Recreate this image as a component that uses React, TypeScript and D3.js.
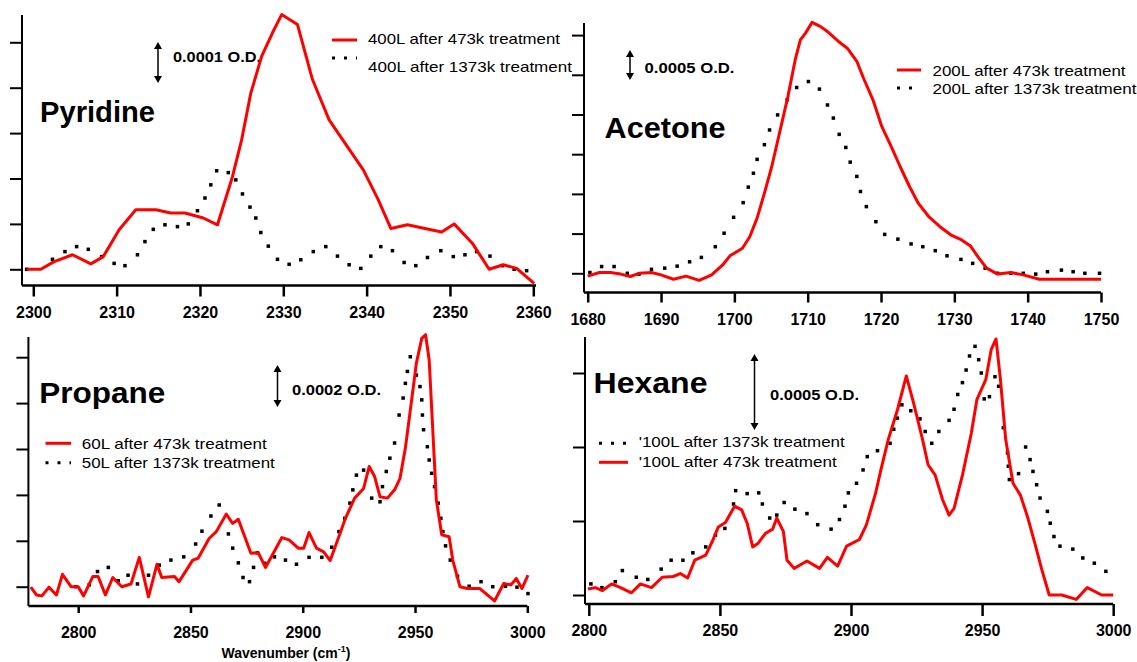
import React, { useEffect, useRef } from "react";
import * as d3 from "d3";

type Pt = [number, number];

// x = wavenumber (cm-1), y = absorbance in y-tick units
const pyridine473: Pt[] = [
  [2299.2, 0], [2300.9, 0], [2302.5, 0.17], [2304.7, 0.32], [2306.9, 0.12], [2308.4, 0.28],
  [2310.3, 0.87], [2312.3, 1.31], [2314.7, 1.31], [2316.5, 1.24], [2318.2, 1.24], [2320.4, 1.13],
  [2322.1, 0.98], [2323.9, 2.04], [2325.0, 2.85], [2326.1, 3.88], [2327.4, 4.69], [2328.7, 5.21],
  [2329.8, 5.61], [2331.7, 5.39], [2333.5, 4.18], [2335.5, 3.29], [2337.4, 2.78], [2339.6, 2.19],
  [2341.4, 1.53], [2342.9, 0.9], [2344.9, 0.98], [2347.0, 0.9], [2349.0, 0.82], [2350.5, 1.0],
  [2352.7, 0.57], [2354.7, 0], [2356.4, 0.1], [2358.0, 0.02], [2360.1, -0.31]
];
const pyridine1373: Pt[] = [
  [2299.2, 0], [2302.3, 0.22], [2303.8, 0.39], [2305.2, 0.5], [2306.6, 0.44], [2308.2, 0.28],
  [2309.7, 0.13], [2311.0, 0.08], [2312.5, 0.32], [2313.4, 0.61], [2314.4, 0.88], [2315.8, 0.98],
  [2317.3, 0.94], [2318.6, 1.0], [2319.7, 1.29], [2320.6, 1.57], [2321.3, 1.86], [2322.0, 2.17],
  [2323.4, 2.13], [2324.3, 1.97], [2325.1, 1.66], [2326.0, 1.37], [2326.7, 1.13], [2327.3, 0.81],
  [2328.2, 0.51], [2329.3, 0.22], [2330.7, 0.11], [2332.1, 0.21], [2333.6, 0.39], [2335.1, 0.5],
  [2336.5, 0.29], [2337.9, 0.1], [2339.3, 0.02], [2340.5, 0.29], [2341.7, 0.5], [2343.1, 0.41],
  [2344.5, 0.15], [2345.9, 0.08], [2347.3, 0.26], [2348.9, 0.41], [2350.4, 0.28], [2351.8, 0.32],
  [2353.2, 0.39], [2354.8, 0.29], [2356.3, 0.08], [2357.7, 0], [2359.2, -0.03]
];
const pyridineXTicks = [2300, 2310, 2320, 2330, 2340, 2350, 2360];
const pyridineYTicks = [0, 1, 2, 3, 4, 5];
const pyridineLegend = ["400L after 473k treatment", "400L after 1373k treatment"];

const acetone473: Pt[] = [
  [1680, -0.07], [1681.6, 0.02], [1683.1, 0.02], [1684.5, -0.02], [1685.8, -0.08], [1687.0, 0],
  [1688.7, 0.02], [1690.0, -0.04], [1691.7, -0.15], [1693.4, -0.07], [1695.2, -0.18], [1696.9, -0.04],
  [1698.4, 0.21], [1699.4, 0.44], [1701.1, 0.63], [1702.1, 0.92], [1703.1, 1.39], [1704.1, 2.02],
  [1705.1, 2.69], [1706.2, 3.57], [1707.3, 4.45], [1708.3, 5.38], [1709.0, 5.88], [1709.7, 6.05],
  [1710.6, 6.32], [1711.7, 6.22], [1712.7, 6.09], [1714.2, 5.84], [1715.4, 5.67], [1716.7, 5.34],
  [1717.6, 4.92], [1718.9, 4.37], [1720.1, 3.7], [1721.4, 3.19], [1722.6, 2.69], [1723.9, 2.18],
  [1725.1, 1.76], [1726.5, 1.43], [1728.0, 1.18], [1729.5, 0.97], [1731.0, 0.84], [1732.2, 0.69],
  [1733.2, 0.42], [1734.4, 0.13], [1735.9, -0.02], [1737.7, 0.02], [1739.4, -0.04], [1741.6, -0.15],
  [1750, -0.15]
];
const acetone1373: Pt[] = [
  [1680.3, 0.02], [1681.9, 0.17], [1683.6, 0.17], [1685.4, 0], [1687.0, -0.02], [1688.7, 0.1],
  [1690.5, 0.13], [1692.2, 0.18], [1693.9, 0.29], [1695.5, 0.4], [1697.4, 0.67], [1698.6, 1.01],
  [1699.9, 1.41], [1701.2, 1.78], [1701.9, 2.17], [1702.6, 2.52], [1703.1, 2.87], [1704.1, 3.24],
  [1704.8, 3.61], [1705.9, 3.99], [1707.2, 4.37], [1708.5, 4.68], [1710.1, 4.83], [1711.6, 4.64],
  [1712.7, 4.24], [1713.5, 3.91], [1714.3, 3.5], [1715.2, 3.17], [1715.8, 2.8], [1716.7, 2.44],
  [1717.2, 2.06], [1718.0, 1.68], [1719.3, 1.3], [1720.5, 0.98], [1722.3, 0.86], [1724.1, 0.74],
  [1725.7, 0.67], [1727.4, 0.57], [1729.0, 0.44], [1730.9, 0.35], [1732.5, 0.25], [1734.2, 0.13],
  [1735.9, 0], [1737.7, 0], [1739.4, 0], [1741.1, -0.02], [1742.7, 0.04], [1744.6, 0.08],
  [1746.2, 0.04], [1747.8, 0], [1749.8, 0]
];
const acetoneXTicks = [1680, 1690, 1700, 1710, 1720, 1730, 1740, 1750];
const acetoneYTicks = [0, 1, 2, 3, 4, 5, 6];
const acetoneLegend = ["200L after 473k treatment", "200L after 1373k treatment"];

const propane473: Pt[] = [
  [2778.9, -0.01], [2781.4, -0.18], [2783.8, -0.2], [2787.0, -0.01], [2790.3, -0.18], [2793.0, 0.27],
  [2796.8, 0], [2800, 0], [2802.4, -0.2], [2806.5, 0.22], [2808.9, 0.22], [2812.1, -0.18],
  [2815.4, 0.2], [2819.4, 0], [2823.5, 0.06], [2827.2, 0.64], [2831.3, -0.22], [2835.1, 0.49],
  [2837.2, 0.2], [2842.9, 0.22], [2844.9, 0.11], [2851.0, 0.58], [2853.4, 0.62], [2858.3, 1.05],
  [2861.5, 1.2], [2865.9, 1.58], [2868.8, 1.38], [2871.3, 1.47], [2876.9, 0.73], [2880.2, 0.74],
  [2883.4, 0.42], [2890.7, 1.07], [2893.9, 1.02], [2898.0, 0.84], [2900.4, 0.84], [2902.8, 1.18],
  [2906.1, 0.84], [2909.3, 0.76], [2912.2, 0.57], [2916.6, 1.16], [2919.0, 1.49], [2923.1, 1.93],
  [2927.1, 2.14], [2929.6, 2.62], [2932.0, 2.4], [2934.4, 1.96], [2937.7, 1.93], [2940.9, 2.11],
  [2943.3, 2.36], [2945.7, 3.02], [2948.2, 3.96], [2950.6, 4.87], [2953.0, 5.41], [2954.7, 5.49],
  [2956.3, 4.94], [2957.9, 3.42], [2959.5, 1.89], [2961.9, 1.13], [2965.2, 1.09], [2966.8, 0.58],
  [2970.0, 0], [2973.3, -0.04], [2978.9, -0.04], [2982.2, -0.18], [2985.4, -0.31], [2989.5, 0.07],
  [2992.7, 0.04], [2995.1, 0.18], [2997.6, -0.04], [3000.3, 0.25]
];
const propane1373: Pt[] = [
  [2798.9, 0], [2804.9, 0.04], [2808.6, 0.33], [2813.4, 0.42], [2817.8, 0.13], [2822.2, 0.25],
  [2826.4, 0.06], [2831.3, 0.25], [2836.1, 0.47], [2841.3, 0.58], [2847.0, 0.65], [2852.3, 0.93],
  [2855.1, 1.21], [2859.1, 1.54], [2862.8, 1.78], [2866.9, 1.15], [2868.8, 0.84], [2871.3, 0.52],
  [2873.4, 0.2], [2876.3, 0.11], [2878.1, 0.42], [2879.8, 0.74], [2883.1, 0.51], [2887.4, 0.65],
  [2892.3, 0.58], [2897.2, 0.49], [2902.8, 0.64], [2908.5, 0.64], [2912.9, 0.86], [2916.1, 1.2],
  [2918.7, 1.49], [2921.0, 1.82], [2922.3, 2.11], [2923.9, 2.43], [2927.1, 2.54], [2930.7, 1.93],
  [2934.4, 1.85], [2935.5, 2.18], [2937.2, 2.51], [2938.8, 2.8], [2940.9, 3.13], [2942.9, 3.74],
  [2944.7, 4.11], [2945.7, 4.43], [2946.6, 4.69], [2947.9, 5.01], [2950.6, 4.61], [2952.2, 4.36],
  [2953.0, 4.07], [2953.3, 3.74], [2953.8, 3.42], [2955.5, 3.05], [2956.3, 2.76], [2957.4, 2.47],
  [2958.7, 2.18], [2960.3, 1.82], [2961.5, 1.49], [2962.4, 1.2], [2963.6, 0.89], [2965.7, 0.58],
  [2968.9, 0.23], [2974.1, 0.01], [2979.4, 0.11], [2984.6, 0], [2990.3, 0.01], [2995.4, -0.01],
  [3000.3, -0.15]
];
const propaneXTicks = [2800, 2850, 2900, 2950, 3000];
const propaneYTicks = [0, 1, 2, 3, 4, 5];
const propaneLegend = ["60L after 473k treatment", "50L after 1373k treatment"];

const hexane473: Pt[] = [
  [2799.7, 0.08], [2802.5, 0.1], [2805.2, 0.06], [2808.7, 0.15], [2812.1, 0.1], [2816.3, 0.03],
  [2819.7, 0.15], [2823.9, 0.1], [2828.0, 0.24], [2832.1, 0.25], [2834.9, 0.29], [2837.7, 0.23],
  [2840.4, 0.47], [2844.6, 0.54], [2847.3, 0.74], [2849.4, 0.92], [2852.1, 0.98], [2855.6, 1.2],
  [2858.3, 1.15], [2860.4, 0.97], [2862.5, 0.65], [2864.6, 0.7], [2867.3, 0.83], [2870.1, 0.89],
  [2871.7, 1.04], [2874.2, 0.86], [2875.6, 0.47], [2878.3, 0.36], [2883.2, 0.46], [2888.0, 0.36],
  [2891.0, 0.51], [2894.9, 0.39], [2898.3, 0.66], [2903.2, 0.75], [2905.9, 0.95], [2909.4, 1.38],
  [2911.4, 1.69], [2914.2, 2.1], [2917.7, 2.5], [2921.1, 2.96], [2923.9, 2.59], [2927.3, 2.1],
  [2929.4, 1.76], [2932.1, 1.62], [2934.9, 1.29], [2937.4, 1.08], [2939.3, 1.17], [2942.5, 1.62],
  [2945.9, 2.19], [2948.0, 2.64], [2951.4, 2.91], [2953.5, 3.32], [2955.3, 3.46], [2957.0, 2.91],
  [2959.0, 2.1], [2961.8, 1.51], [2964.6, 1.35], [2967.3, 1.06], [2970.1, 0.7], [2972.8, 0.34],
  [2975.6, 0], [2980.4, 0], [2985.9, -0.06], [2990.1, 0.1], [2995.6, 0], [3000, 0]
];
const hexane1373: Pt[] = [
  [2800.8, 0.15], [2805.0, 0.1], [2810.1, 0.18], [2812.8, 0.33], [2818.1, 0.24], [2822.5, 0.21],
  [2827.6, 0.35], [2831.4, 0.47], [2835.9, 0.47], [2839.7, 0.57], [2844.6, 0.65], [2848.3, 0.81],
  [2851.9, 0.9], [2855.2, 1.23], [2856.0, 1.41], [2860.4, 1.37], [2864.8, 1.38], [2866.2, 1.23],
  [2869.0, 1.04], [2871.7, 1.08], [2874.5, 1.25], [2878.6, 1.16], [2883.2, 1.1], [2887.3, 0.95],
  [2892.4, 0.89], [2895.6, 1.02], [2897.7, 1.2], [2899.0, 1.38], [2902.1, 1.51], [2904.6, 1.69],
  [2906.2, 1.87], [2910.1, 1.95], [2914.9, 2.05], [2916.3, 2.24], [2917.7, 2.39], [2919.4, 2.57],
  [2922.8, 2.49], [2926.3, 2.38], [2928.3, 2.21], [2930.8, 2.05], [2933.5, 2.21], [2937.4, 2.36],
  [2939.3, 2.51], [2940.7, 2.71], [2942.5, 2.87], [2943.9, 3.04], [2945.2, 3.23], [2947.3, 3.36],
  [2948.7, 3.18], [2949.7, 3.0], [2950.8, 2.65], [2952.8, 2.68], [2954.9, 2.95], [2956.3, 2.82],
  [2958.1, 2.26], [2959.7, 1.92], [2960.0, 1.74], [2960.4, 1.56], [2963.9, 1.64], [2966.6, 2.0],
  [2968.3, 1.83], [2969.4, 1.67], [2970.8, 1.49], [2972.1, 1.31], [2974.9, 1.13], [2976.0, 0.97],
  [2977.4, 0.79], [2979.7, 0.66], [2984.6, 0.62], [2988.4, 0.5], [2992.8, 0.43], [2997.2, 0.32]
];
const hexaneXTicks = [2800, 2850, 2900, 2950, 3000];
const hexaneYTicks = [0, 1, 2, 3];
const hexaneLegend = ["'100L after 1373k treatment", "'100L after 473k treatment"];

const FONT = "'Liberation Sans', Arial, Helvetica, sans-serif";
const RED = "#ff0000";

// layout of each of the four panels (pixel positions)
const panels = [
  {
    title: "Pyridine", red: pyridine473, dots: pyridine1373, xTicks: pyridineXTicks, yTicks: pyridineYTicks,
    xd: [2300, 2360], xr: [33.3, 533.3], y0: 269.3, unit: 45.4,
    left: 22, right: 536, top: 15, bottom: 285.5, xTick: 11, labelY: 318,
    tt: [40, 121.7, 115],
    bar: { x: 158, y0: 42, y1: 83, tx: 173, ty: 62, tw: 88, text: "0.0001 O.D." },
    leg: { x0: 332, x1: 357, tx: 368, rows: [
      { kind: "red", y: 40, ty: 44.3, tw: 192, text: pyridineLegend[0] },
      { kind: "dots", y: 58, ty: 72, tw: 204, text: pyridineLegend[1] }] }
  },
  {
    title: "Acetone", red: acetone473, dots: acetone1373, xTicks: acetoneXTicks, yTicks: acetoneYTicks,
    xd: [1680, 1750], xr: [587.7, 1101], y0: 273.3, unit: 39.7,
    left: 584, right: 1101, top: 23, bottom: 292.5, xTick: 10, labelY: 325,
    tt: [604.5, 138, 121],
    bar: { x: 630, y0: 50, y1: 80, tx: 644.5, ty: 73, tw: 90, text: "0.0005 O.D." },
    leg: { x0: 897, x1: 921, tx: 932.5, rows: [
      { kind: "red", y: 70, ty: 75.5, tw: 193, text: acetoneLegend[0] },
      { kind: "dots", y: 88, ty: 94, tw: 204, text: acetoneLegend[1] }] }
  },
  {
    title: "Propane", red: propane473, dots: propane1373, xTicks: propaneXTicks, yTicks: propaneYTicks,
    xd: [2800, 3000], xr: [78.2, 527.3], y0: 586.7, unit: 45.9,
    left: 28.4, right: 527.3, top: 337, bottom: 606, xTick: 7, labelY: 638,
    tt: [39.3, 402.7, 126],
    bar: { x: 277.5, y0: 365, y1: 407, tx: 292, ty: 395, tw: 89, text: "0.0002 O.D." },
    leg: { x0: 45.5, x1: 71, tx: 81.8, rows: [
      { kind: "red", y: 443.3, ty: 449.3, tw: 185, text: propaneLegend[0] },
      { kind: "dots", y: 462.7, ty: 468.3, tw: 193, text: propaneLegend[1] }] }
  },
  {
    title: "Hexane", red: hexane473, dots: hexane1373, xTicks: hexaneXTicks, yTicks: hexaneYTicks,
    xd: [2800, 3000], xr: [588.8, 1113.2], y0: 595, unit: 74,
    left: 585, right: 1113.2, top: 337, bottom: 604, xTick: 12, labelY: 636,
    tt: [593.5, 392.7, 114],
    bar: { x: 754.5, y0: 354, y1: 430, tx: 770, ty: 400, tw: 89, text: "0.0005 O.D." },
    leg: { x0: 599, x1: 628, tx: 638.7, rows: [
      { kind: "dots", y: 443.3, ty: 447.3, tw: 206, text: hexaneLegend[0] },
      { kind: "red", y: 462.3, ty: 466.7, tw: 198, text: hexaneLegend[1] }] }
  }
];

function App() {
  const ref = useRef<SVGSVGElement>(null);

  useEffect(() => {
    const svg = d3.select(ref.current);
    svg.selectAll("*").remove();

    panels.forEach(p => {
      const x = d3.scaleLinear().domain(p.xd).range(p.xr);
      const y = d3.scaleLinear().domain([0, 1]).range([p.y0, p.y0 - p.unit]);
      const g = svg.append("g");

      // axis lines
      g.append("line").attr("x1", p.left).attr("x2", p.left).attr("y1", p.top).attr("y2", p.bottom)
        .attr("stroke", "#000").attr("stroke-width", 2);
      g.append("line").attr("x1", p.left).attr("x2", p.right).attr("y1", p.bottom).attr("y2", p.bottom)
        .attr("stroke", "#000").attr("stroke-width", 2.5);

      const xa = g.append("g")
        .attr("transform", `translate(0,${p.bottom})`)
        .call(d3.axisBottom(x).tickValues(p.xTicks).tickSize(p.xTick).tickSizeOuter(0).tickFormat(d3.format("d")));
      xa.select(".domain").remove();
      xa.selectAll("line").attr("stroke", "#000").attr("stroke-width", 2.5);
      xa.selectAll("text")
        .attr("y", p.labelY - p.bottom).attr("dy", null)
        .attr("fill", "#000").attr("font-family", FONT).attr("font-size", 16).attr("font-weight", "bold");

      const ya = g.append("g")
        .attr("transform", `translate(${p.left},0)`)
        .call(d3.axisLeft(y).tickValues(p.yTicks).tickSize(12).tickSizeOuter(0).tickFormat(() => ""));
      ya.select(".domain").remove();
      ya.selectAll("line").attr("stroke", "#000").attr("stroke-width", 2);

      // panel title
      g.append("text").attr("x", p.tt[0]).attr("y", p.tt[1]).text(p.title)
        .attr("font-family", FONT).attr("font-size", 30).attr("font-weight", "bold")
        .attr("textLength", p.tt[2]).attr("lengthAdjust", "spacingAndGlyphs");

      // scale bar with double arrow
      const b = p.bar;
      g.append("line").attr("x1", b.x).attr("x2", b.x).attr("y1", b.y0 + 3).attr("y2", b.y1 - 3)
        .attr("stroke", "#000").attr("stroke-width", 1.5);
      g.append("path").attr("d", `M${b.x},${b.y0} l-4,7 l8,0 Z M${b.x},${b.y1} l-4,-7 l8,0 Z`).attr("fill", "#000");
      g.append("text").attr("x", b.tx).attr("y", b.ty).text(b.text)
        .attr("font-family", FONT).attr("font-size", 15).attr("font-weight", "bold")
        .attr("textLength", b.tw).attr("lengthAdjust", "spacingAndGlyphs");

      // legend
      p.leg.rows.forEach(r => {
        const l = g.append("line").attr("x1", p.leg.x0).attr("x2", p.leg.x1).attr("y1", r.y).attr("y2", r.y)
          .attr("stroke", r.kind === "red" ? RED : "#000").attr("stroke-width", 3);
        if (r.kind === "dots") l.attr("stroke-dasharray", "3,9");
        g.append("text").attr("x", p.leg.tx).attr("y", r.ty).text(r.text)
          .attr("font-family", FONT).attr("font-size", 15)
          .attr("textLength", r.tw).attr("lengthAdjust", "spacingAndGlyphs");
      });

      // 1373k series: dotted
      g.selectAll("rect.dot").data(p.dots).enter().append("rect")
        .attr("class", "dot")
        .attr("x", d => x(d[0]) - 1.75).attr("y", d => y(d[1]) - 1.75)
        .attr("width", 3.5).attr("height", 3.5).attr("fill", "#000");

      // 473k series: red line
      const line = d3.line<Pt>().x(d => x(d[0])).y(d => y(d[1]));
      g.append("path").datum(p.red).attr("d", line)
        .attr("fill", "none").attr("stroke", RED).attr("stroke-width", 3).attr("stroke-linejoin", "round");
    });

    // shared x-axis title
    const t = svg.append("text").attr("x", 286).attr("y", 658).attr("text-anchor", "middle")
      .attr("font-family", FONT).attr("font-size", 14).attr("font-weight", "bold");
    t.append("tspan").text("Wavenumber (cm");
    t.append("tspan").attr("font-size", 9).attr("dy", -6).text("-1");
    t.append("tspan").attr("dy", 6).text(")");
  }, []);

  return (
    <svg ref={ref} width={1137} height={662}
      style={{ position: "absolute", left: 0, top: 0, background: "#fff" }} />
  );
}

export default App;
